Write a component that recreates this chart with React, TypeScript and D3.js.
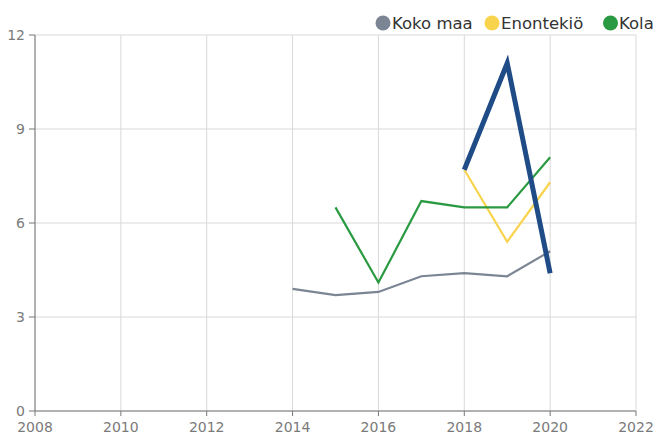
import React from "react";
import * as d3 from "d3";

const years = [2014, 2015, 2016, 2017, 2018, 2019, 2020];
const kokoMaa = [3.9, 3.7, 3.8, 4.3, 4.4, 4.3, 5.1];
const enontekio = [null, null, null, null, 7.7, 5.4, 7.3];
const kola = [null, 6.5, 4.1, 6.7, 6.5, 6.5, 8.1];
const highlighted = [null, null, null, null, 7.7, 11.1, 4.4];
const xTicks = [2008, 2010, 2012, 2014, 2016, 2018, 2020, 2022];
const yTicks = [0, 3, 6, 9, 12];
const legendNames = ["Koko maa", "Enontekiö", "Kola"];

const W = 657;
const H = 434;
const margin = { left: 35, right: 21, top: 35, bottom: 23 };

export default function App() {
  const x = d3.scaleLinear().domain([2008, 2022]).range([margin.left, W - margin.right]);
  const y = d3.scaleLinear().domain([0, 12]).range([H - margin.bottom, margin.top]);

  const line = d3
    .line<[number, number | null]>()
    .defined((d) => d[1] != null)
    .x((d) => x(d[0]))
    .y((d) => y(d[1] as number));

  const series = [
    { values: kokoMaa, color: "#7b8593", width: 2.2 },
    { values: enontekio, color: "#f8d44c", width: 2.2 },
    { values: kola, color: "#2a9a42", width: 2.2 },
    { values: highlighted, color: "#1f4c86", width: 5 },
  ];

  const legend = [
    { name: legendNames[0], color: "#7b8593", cx: 383, tx: 392 },
    { name: legendNames[1], color: "#f8d44c", cx: 492, tx: 501 },
    { name: legendNames[2], color: "#2a9a42", cx: 610.5, tx: 619 },
  ];

  const font = "DejaVu Sans, sans-serif";
  const x0 = margin.left;
  const x1 = W - margin.right;
  const y0 = H - margin.bottom;
  const y1 = margin.top;

  return (
    <svg
      width={W}
      height={H}
      style={{ position: "absolute", left: 0, top: 0, display: "block", background: "#fff" }}
    >
      {xTicks.map((t) => (
        <line key={"gx" + t} x1={x(t)} x2={x(t)} y1={y1} y2={y0} stroke="#d9d9d9" strokeWidth={1} />
      ))}
      {yTicks.map((t) => (
        <line key={"gy" + t} x1={x0} x2={x1} y1={y(t)} y2={y(t)} stroke="#d9d9d9" strokeWidth={1} />
      ))}
      <line x1={x0} x2={x0} y1={y1} y2={y0} stroke="#777" strokeWidth={1} />
      <line x1={x0} x2={x1} y1={y0} y2={y0} stroke="#777" strokeWidth={1} />
      {yTicks.map((t) => (
        <g key={"ty" + t}>
          <line x1={x0 - 6} x2={x0} y1={y(t)} y2={y(t)} stroke="#777" />
          <text
            x={x0 - 10}
            y={y(t)}
            dy="0.35em"
            textAnchor="end"
            fontFamily={font}
            fontSize={14}
            fill="#7a7a7a"
          >
            {t}
          </text>
        </g>
      ))}
      {xTicks.map((t) => (
        <g key={"tx" + t}>
          <line x1={x(t)} x2={x(t)} y1={y0} y2={y0 + 5} stroke="#777" />
          <text
            x={x(t)}
            y={y0 + 21}
            textAnchor="middle"
            fontFamily={font}
            fontSize={14}
            fill="#7a7a7a"
          >
            {t}
          </text>
        </g>
      ))}
      {series.map((s, i) => (
        <path
          key={"s" + i}
          d={line(years.map((yr, j) => [yr, s.values[j]] as [number, number | null])) || ""}
          fill="none"
          stroke={s.color}
          strokeWidth={s.width}
          strokeLinejoin="miter"
        />
      ))}
      {legend.map((l) => (
        <g key={l.name}>
          <circle cx={l.cx} cy={23} r={7.5} fill={l.color} />
          <text x={l.tx} y={29} fontFamily={font} fontSize={16.5} fill="#333">
            {l.name}
          </text>
        </g>
      ))}
    </svg>
  );
}
